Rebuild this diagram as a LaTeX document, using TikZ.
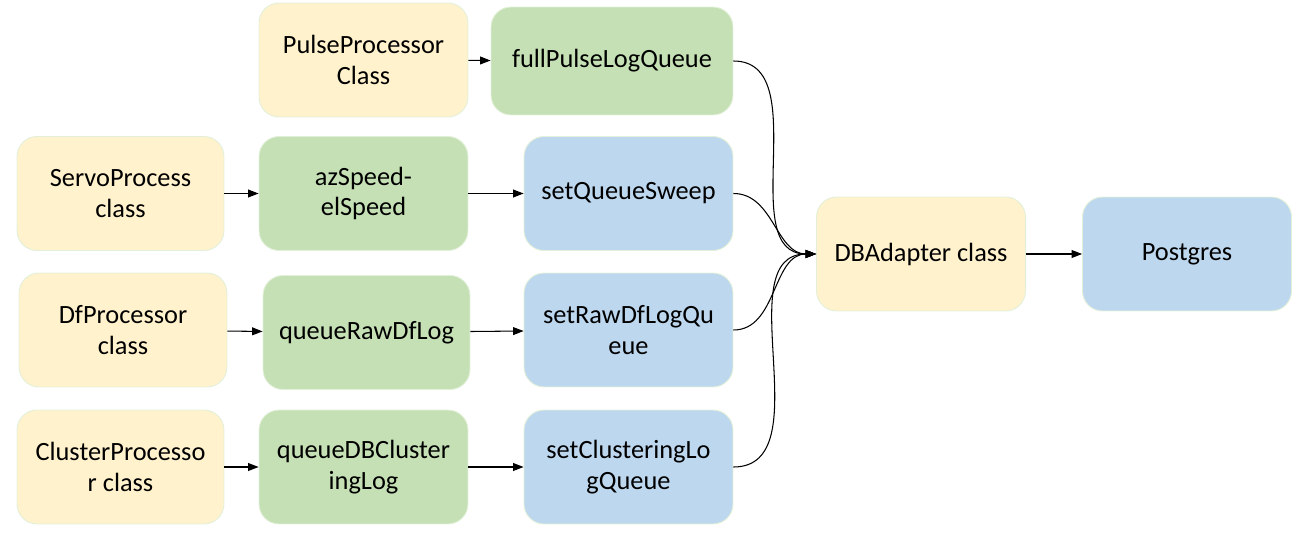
\documentclass[tikz,border=0pt]{standalone}
\usepackage{fontspec}
\setmainfont{Carlito}
\usetikzlibrary{arrows.meta}
\definecolor{classyellow}{RGB}{255,242,204}
\definecolor{queuegreen}{RGB}{197,224,180}
\definecolor{setblue}{RGB}{189,215,238}
\definecolor{edgegreen}{RGB}{226,240,217}
\tikzset{
    box/.style={rounded corners=0.4cm, draw=edgegreen, line width=0.5pt, align=center,
        minimum width=4.18cm, minimum height=2.28cm, inner sep=0pt,
        font=\fontsize{15}{17.6}\selectfont},
    classbox/.style={box, fill=classyellow},
    queuebox/.style={box, fill=queuegreen},
    setbox/.style={box, fill=setblue},
    link/.style={-{Triangle[length=6pt,width=4.5pt]}, line width=0.6pt}
}
\begin{document}
\begin{tikzpicture}[x=0.02cm,y=-0.02cm]
\useasboundingbox (0,0) rectangle (1315,537);

	\node[classbox] (pulse) at (363.5,60) {PulseProcessor\\Class};
	\node[queuebox, minimum width=4.84cm, minimum height=2.16cm] (fullpulse) at (612,61) {fullPulseLogQueue};

	\node[classbox, minimum width=4.14cm] (servo) at (120.5,193.5) {ServoProcess\\class};
	\node[queuebox] (azspeed) at (363.5,193.5) {azSpeed-\\elSpeed};
	\node[setbox] (sweep) at (628.5,193.5) {setQueueSweep};

	\node[classbox, minimum width=4.16cm] (df) at (123,330) {DfProcessor\\class};
	\node[queuebox, minimum width=4.14cm] (rawdf) at (366.5,332.5) {queueRawDfLog};
	\node[setbox] (rawdfq) at (628.5,330) {setRawDfLogQu\\eue};

	\node[classbox, minimum width=4.14cm] (cluster) at (120.5,467) {ClusterProcesso\\r class};
	\node[queuebox] (dbcluster) at (363.5,467) {queueDBCluster\\ingLog};
	\node[setbox] (clusterq) at (628.5,467) {setClusteringLo\\gQueue};

	\node[classbox] (db) at (921,254) {DBAdapter class};
	\node[setbox] (pg) at (1187,254) {Postgres};

	% producers into their queues
	\draw[link] (pulse) -- (fullpulse);
	\draw[link] (servo) -- (azspeed);
	\draw[link] (azspeed) -- (sweep);
	\draw[link] (df) -- (rawdf);
	\draw[link] (rawdf) -- (rawdfq);
	\draw[link] (cluster) -- (dbcluster);
	\draw[link] (dbcluster) -- (clusterq);

	% queues into the adapter
	\draw[link] (fullpulse.east) to[out=0,in=180] (db.west);
	\draw[link] (sweep.east) to[out=0,in=180] (db.west);
	\draw[link] (rawdfq.east) to[out=0,in=180] (db.west);
	\draw[link] (clusterq.east) to[out=0,in=180] (db.west);

	\draw[link] (db) -- (pg);

\end{tikzpicture}
\end{document}
